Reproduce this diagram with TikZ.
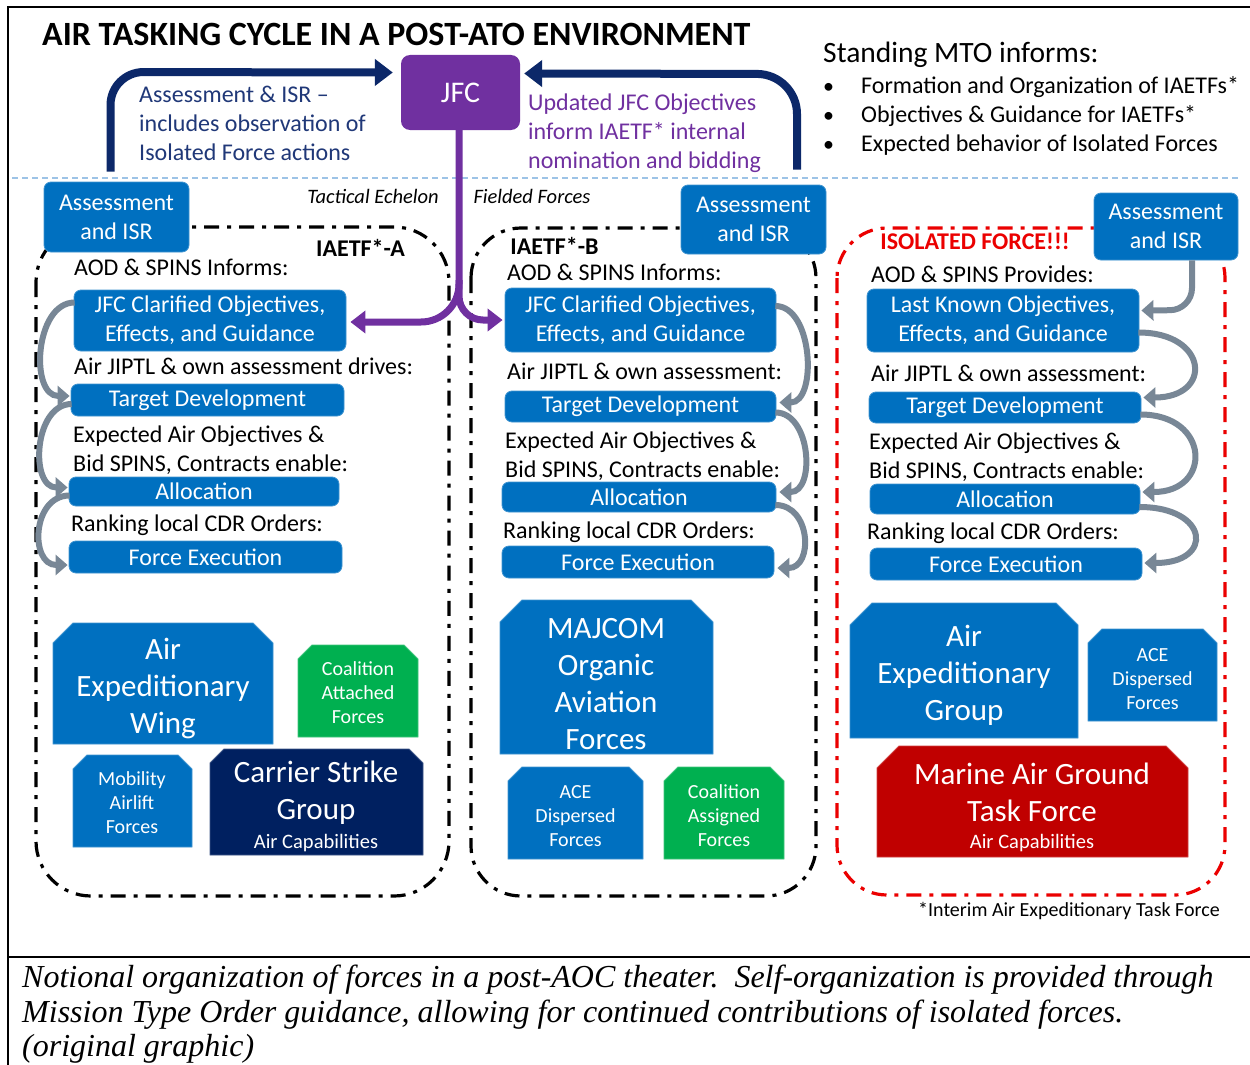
\documentclass[tikz,border=0pt]{standalone}
\usepackage{fontspec}
\setmainfont{Carlito}
\newfontfamily\capfont{Liberation Serif}
\usetikzlibrary{arrows.meta,calc}
\definecolor{boxblue}{RGB}{0,112,192}
\definecolor{navyc}{RGB}{0,32,96}
\definecolor{arrnavy}{RGB}{12,40,105}
\definecolor{greenc}{RGB}{0,176,80}
\definecolor{redc}{RGB}{192,0,0}
\definecolor{jfcpurple}{RGB}{112,48,160}
\definecolor{arrgray}{RGB}{120,135,150}
\definecolor{sepblue}{RGB}{157,195,230}
\definecolor{txtblue}{RGB}{32,56,120}
\definecolor{txtpurple}{RGB}{112,48,160}
\definecolor{isored}{RGB}{235,0,0}
\newcommand{\myfs}[2]{\fontsize{#1}{#2}\selectfont}
\newcommand{\chamf}[6]{%
  \filldraw[fill=#6, draw=#6!75!white, line width=0.8pt]
    (#1,#4) -- (#1,{#2+#5}) -- ({#1+#5},#2) -- ({#3-#5},#2) -- (#3,{#2+#5}) -- (#3,#4) -- cycle;}
\tikzset{
  bbox/.style={fill=boxblue, draw=boxblue!75!white, line width=0.8pt, rounded corners=7pt,
    text=white, inner sep=0pt, align=center, font=\myfs{24}{29}},
  lbl/.style={anchor=base west, inner sep=0pt, align=left, font=\myfs{24}{29}},
  bigtxt/.style={text=white, align=center, inner sep=0pt, font=\myfs{31}{37}},
  smalltxt/.style={text=white, align=center, inner sep=0pt, font=\myfs{20}{24}},
  grpblack/.style={draw=black, line width=3.2pt, dash pattern=on 15pt off 8pt on 4pt off 8pt},
  grpred/.style={draw=isored, line width=3.2pt, dash pattern=on 15pt off 8pt on 4pt off 8pt},
  grayarr/.style={draw=arrgray, line width=6pt, -{Triangle[length=12pt,width=20pt]}},
  navyarr/.style={draw=arrnavy, line width=8pt, -{Triangle[length=18pt,width=26pt]}},
  purarr/.style={draw=jfcpurple, line width=7pt, -{Triangle[length=15pt,width=22pt]}},
  sepline/.style={draw=sepblue, line width=1.5pt, dash pattern=on 6pt off 4pt}
}
\begin{document}
\begin{tikzpicture}[x=1pt,y=-1pt]
\useasboundingbox (0,0) rectangle (1250,1065);
\fill[white] (0,0) rectangle (1250,1065);

% frame lines
\draw[line width=1.5pt] (8,1065) -- (8,7) -- (1250,7);
\draw[line width=2pt] (8,957) -- (1250,957);

% dashed separator
\draw[sepline] (12,178) -- (1240,178);

% group frames
\draw[grpblack, rounded corners=55pt] (36,227) rectangle (449,896);
\draw[grpblack, rounded corners=50pt] (471,228) rectangle (816,896);
\draw[grpred, rounded corners=50pt] (837,228) rectangle (1225,895);

% title
\node[anchor=base west, inner sep=0pt, font=\bfseries\myfs{34}{40}] (title) at (42,46) {AIR TASKING CYCLE IN A POST-ATO ENVIRONMENT};

% standing MTO
\node[anchor=base west, inner sep=0pt, font=\myfs{29.5}{34}] (mto) at (823,63) {Standing MTO informs:};
\node[anchor=base west, inner sep=0pt, font=\myfs{22}{29}] (b1) at (823,93) {\textbullet};
\node[anchor=base west, inner sep=0pt, font=\myfs{22}{29}] (b2) at (823,122) {\textbullet};
\node[anchor=base west, inner sep=0pt, font=\myfs{22}{29}] (b3) at (823,151) {\textbullet};
\node[anchor=base west, inner sep=0pt, font=\myfs{24}{29}] (m1) at (861,93) {Formation and Organization of IAETFs*};
\node[anchor=base west, inner sep=0pt, font=\myfs{24}{29}] (m2) at (861,122) {Objectives \& Guidance for IAETFs*};
\node[anchor=base west, inner sep=0pt, font=\myfs{24}{29}] (m3) at (861,151) {Expected behavior of Isolated Forces};

% JFC
\node[fill=jfcpurple, rounded corners=9pt, minimum width=119pt, minimum height=75pt, text=white, inner sep=0pt, font=\myfs{30}{34}] (jfc) at (460.5,92.5) {JFC};

% top texts
\node[lbl, text=txtblue] (asstxt) at (139,160) {Assessment \& ISR --\\includes observation of\\Isolated Force actions};
\node[lbl, text=txtpurple] (updtxt) at (528,168) {Updated JFC Objectives\\inform IAETF* internal\\nomination and bidding};

\node[anchor=base, inner sep=0pt, font=\itshape\myfs{20.5}{24}] (tact) at (373,203) {Tactical Echelon};
\node[anchor=base, inner sep=0pt, font=\itshape\myfs{20.5}{24}] (field) at (532,203) {Fielded Forces};

% assessment boxes
\node[bbox, minimum width=145pt, minimum height=70pt] (assL) at (116.5,217) {Assessment\\and ISR};
\node[bbox, minimum width=145pt, minimum height=69pt] (assM) at (753.5,219.5) {Assessment\\and ISR};
\node[bbox, minimum width=144pt, minimum height=67pt] (assR) at (1166,226.5) {Assessment\\and ISR};

% group labels
\node[anchor=base, inner sep=0pt, font=\bfseries\myfs{24}{28}] (labA) at (360.5,256) {IAETF*-A};
\node[anchor=base, inner sep=0pt, font=\bfseries\myfs{24}{28}] (labB) at (554.5,254) {IAETF*-B};
\node[anchor=base, inner sep=0pt, text=isored, font=\bfseries\myfs{24}{28}] (labC) at (975,249) {ISOLATED FORCE!!!};

% column A
\node[lbl] (a1) at (74,275) {AOD \& SPINS Informs:};
\node[bbox, minimum width=272pt, minimum height=61pt] (jfcA) at (210,320.5) {JFC Clarified Objectives,\\Effects, and Guidance};
\node[lbl] (a2) at (74,374) {Air JIPTL \& own assessment drives:};
\node[bbox, minimum width=273pt, minimum height=32pt] (tdA) at (207.5,400) {Target Development};
\node[lbl] (a3) at (73,471) {Expected Air Objectives \&\\Bid SPINS, Contracts enable:};
\node[bbox, minimum width=270pt, minimum height=29pt] (alA) at (204,491.5) {Allocation};
\node[lbl] (a4) at (71,531) {Ranking local CDR Orders:};
\node[bbox, minimum width=273pt, minimum height=32pt] (feA) at (205.5,557) {Force Execution};

% column B
\node[lbl] (b1t) at (507,280) {AOD \& SPINS Informs:};
\node[bbox, minimum width=271pt, minimum height=64pt] (jfcB) at (640.5,320) {JFC Clarified Objectives,\\Effects, and Guidance};
\node[lbl] (b2t) at (507,379) {Air JIPTL \& own assessment:};
\node[bbox, minimum width=271pt, minimum height=31pt] (tdB) at (640.5,406.5) {Target Development};
\node[lbl] (b3t) at (505,477) {Expected Air Objectives \&\\Bid SPINS, Contracts enable:};
\node[bbox, minimum width=274pt, minimum height=30pt] (alB) at (639,497) {Allocation};
\node[lbl] (b4t) at (503,538) {Ranking local CDR Orders:};
\node[bbox, minimum width=272pt, minimum height=32pt] (feB) at (638,562) {Force Execution};

% column C
\node[lbl] (c1t) at (871,282) {AOD \& SPINS Provides:};
\node[bbox, minimum width=272pt, minimum height=63pt] (lkC) at (1003,320.5) {Last Known Objectives,\\Effects, and Guidance};
\node[lbl] (c2t) at (871,381) {Air JIPTL \& own assessment:};
\node[bbox, minimum width=272pt, minimum height=31pt] (tdC) at (1005,407.5) {Target Development};
\node[lbl] (c3t) at (869,478) {Expected Air Objectives \&\\Bid SPINS, Contracts enable:};
\node[bbox, minimum width=270pt, minimum height=30pt] (alC) at (1005,499) {Allocation};
\node[lbl] (c4t) at (867,539) {Ranking local CDR Orders:};
\node[bbox, minimum width=272pt, minimum height=32pt] (feC) at (1006,564) {Force Execution};

% navy arrows
\draw[navyarr, rounded corners=33pt] ([xshift=-6pt,yshift=10pt]assL.north) -- ([xshift=-6pt]assL.north |- 0,72) -- ([xshift=-8pt,yshift=20pt]jfc.west);
\draw[navyarr, rounded corners=40pt] ([xshift=43.5pt,yshift=15pt]assM.north) -- ([xshift=43.5pt]assM.north |- 0,74) -- ([xshift=4pt,yshift=19pt]jfc.east);

% purple arrows
\draw[purarr, rounded corners=38pt] ([xshift=-1.5pt]jfc.south) -- ([xshift=-1.5pt,yshift=-1.5pt]jfc.south |- jfcA.east) -- ([xshift=4pt,yshift=-1.5pt]jfcA.east);
\draw[purarr, rounded corners=24pt] ([xshift=-1.5pt,yshift=-150pt]jfc.south) -- ([xshift=-1.5pt]jfc.south |- jfcB.west) -- ([xshift=-2pt]jfcB.west);

% gray arrows column A
\draw[grayarr] ([xshift=1pt,yshift=18pt]jfcA.west) .. controls +(-40,0) and +(-40,0) .. ([xshift=-1pt,yshift=4pt]tdA.west);
\draw[grayarr] ([xshift=1pt,yshift=-4pt]tdA.west) .. controls +(-38,0) and +(-38,0) .. ([xshift=-1pt,yshift=4pt]alA.west);
\draw[grayarr] ([xshift=1pt,yshift=-4pt]alA.west) .. controls +(-38,0) and +(-38,0) .. ([xshift=-1pt,yshift=-8pt]feA.west);

% gray arrows column B
\draw[grayarr] ([xshift=-1pt,yshift=14pt]jfcB.east) .. controls +(38,0) and +(38,0) .. ([xshift=3pt,yshift=4pt]tdB.east);
\draw[grayarr] ([xshift=-1pt,yshift=-6pt]tdB.east) .. controls +(36,0) and +(36,0) .. ([xshift=3pt,yshift=5pt]alB.east);
\draw[grayarr] ([xshift=-1pt,yshift=-8pt]alB.east) .. controls +(36,0) and +(36,0) .. ([xshift=3pt,yshift=-6pt]feB.east);

% gray arrows column C
\draw[grayarr, rounded corners=22pt] ([xshift=26pt]assR.south) -- ([xshift=26pt]assR.south |- 0,310) -- ([xshift=2pt,yshift=10pt]lkC.east);
\draw[grayarr] ([xshift=-1pt,yshift=-12pt]lkC.east) .. controls +(70,0) and +(70,0) .. ([xshift=2pt,yshift=10pt]tdC.east);
\draw[grayarr] ([xshift=-1pt,yshift=-7pt]tdC.east) .. controls +(70,0) and +(70,0) .. ([xshift=2pt,yshift=7pt]alC.east);
\draw[grayarr] ([xshift=-1pt,yshift=-8pt]alC.east) .. controls +(70,0) and +(70,0) .. ([xshift=2pt,yshift=1pt]feC.east);

% bottom shapes, column A
\chamf{53}{623}{273}{744}{20}{boxblue}
\node[bigtxt] (aew) at (163,688) {Air\\Expeditionary\\Wing};
\chamf{298}{645}{418}{737}{14}{greenc}
\node[smalltxt] (caf) at (358,693) {Coalition\\Attached\\Forces};
\chamf{73}{755}{192}{847}{14}{boxblue}
\node[smalltxt] (maf) at (132,803) {Mobility\\Airlift\\Forces};
\chamf{210}{749}{423}{855}{14}{navyc}
\node[bigtxt] (csg) at (316,793) {Carrier Strike\\Group};
\node[smalltxt, anchor=base, font=\myfs{20.5}{24}] (csgs) at (316,848) {Air Capabilities};

% column B
\chamf{500}{600}{713}{754}{22}{boxblue}
\node[bigtxt] (maj) at (606,684) {MAJCOM\\Organic\\Aviation\\Forces};
\chamf{508}{767}{643}{859}{14}{boxblue}
\node[smalltxt] (aceM) at (575.5,816) {ACE\\Dispersed\\Forces};
\chamf{664}{767}{784}{859}{14}{greenc}
\node[smalltxt] (cas) at (724,816) {Coalition\\Assigned\\Forces};

% column C
\chamf{850}{603}{1078}{738}{22}{boxblue}
\node[bigtxt] (aeg) at (964,675) {Air\\Expeditionary\\Group};
\chamf{1088}{629}{1217}{721}{14}{boxblue}
\node[smalltxt] (aceR) at (1152.5,679) {ACE\\Dispersed\\Forces};
\chamf{877}{746}{1188}{857}{22}{redc}
\node[bigtxt] (mag) at (1032,792) {Marine Air Ground\\Task Force};
\node[smalltxt, anchor=base, font=\myfs{20.5}{24}] (mags) at (1032,848) {Air Capabilities};

% footnote
\node[anchor=base east, inner sep=0pt, font=\myfs{20}{24}] (fn) at (1220,916) {*Interim Air Expeditionary Task Force};

% caption
\node[anchor=base west, inner sep=0pt, font=\capfont\itshape\myfs{32}{36}] (cap1) at (22,987) {Notional organization of forces in a post-AOC theater.\ \ Self-organization is provided through};
\node[anchor=base west, inner sep=0pt, font=\capfont\itshape\myfs{32}{36}] (cap2) at (22,1022) {Mission Type Order guidance, allowing for continued contributions of isolated forces.};
\node[anchor=base west, inner sep=0pt, font=\capfont\itshape\myfs{32}{36}] (cap3) at (22,1056) {(original graphic)};
\end{tikzpicture}
\end{document}
